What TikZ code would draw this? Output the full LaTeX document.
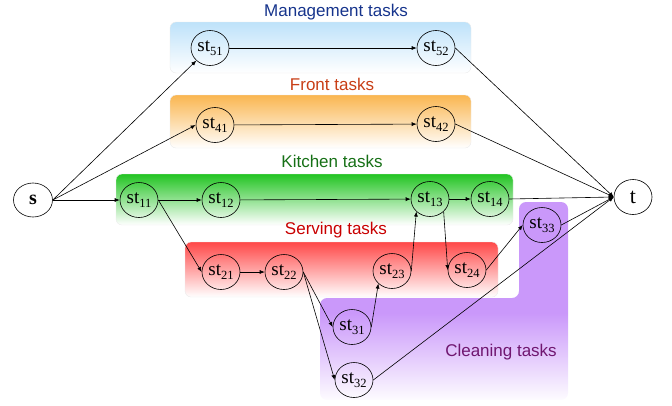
\documentclass[tikz,border=0pt]{standalone}
\usepackage{fontspec}
\setmainfont{Liberation Serif}
\setsansfont{Liberation Sans}
\usetikzlibrary{arrows.meta,shapes.geometric}
\definecolor{mgmtc}{RGB}{190,226,250}
\definecolor{frontc}{RGB}{250,182,80}
\definecolor{kitchc}{RGB}{34,196,34}
\definecolor{servc}{RGB}{255,72,72}
\definecolor{cleanc}{RGB}{202,152,250}
\definecolor{mgmtt}{RGB}{22,52,140}
\definecolor{frontt}{RGB}{200,62,22}
\definecolor{kitcht}{RGB}{22,112,22}
\definecolor{servt}{RGB}{200,0,0}
\definecolor{cleant}{RGB}{112,22,112}
\pgfdeclareverticalshading{cleanshade}{100bp}{color(0bp)=(cleanc!3); color(25bp)=(cleanc!3); color(47bp)=(cleanc); color(100bp)=(cleanc)}
\newcommand\stn[1]{st\raisebox{-0.45ex}{\fontsize{12.5}{12.5}\selectfont #1}}
\begin{document}
\begin{tikzpicture}[x=1pt,y=-1pt,
  task/.style={ellipse,draw,line width=0.6pt,minimum width=38pt,minimum height=35pt,inner sep=0pt,font=\fontsize{19}{19}\selectfont},
  band/.style={rounded corners=6pt,draw=black!8,line width=0.4pt},
  grp/.style={font=\sffamily\fontsize{17}{17}\selectfont},
  arr/.style={-{Latex[length=5pt,width=4pt]},line width=0.6pt}]
\useasboundingbox (0,0) rectangle (672,405);
% bands
\path[band,top color=mgmtc,bottom color=white] (170,22) rectangle (471,73);
\path[band,top color=frontc,bottom color=white] (170,95) rectangle (471,148);
\path[band,top color=kitchc,bottom color=white] (116,174) rectangle (513,225);
\path[band,top color=servc,bottom color=white] (185,242) rectangle (498,297);
\path[shading=cleanshade,rounded corners=7pt] (519,298) -- (519,202) -- (568,202) -- (568,400) -- (320,400) -- (320,298) -- cycle;
% group labels
\node[grp,text=mgmtt] (lm) at (336,12) {Management tasks};
\node[grp,text=frontt] (lf) at (332,84) {Front tasks};
\node[grp,text=kitcht] (lk) at (332,161) {Kitchen tasks};
\node[grp,text=servt] (ls) at (336,230) {Serving tasks};
\node[grp,text=cleant] (lc) at (501,352) {Cleaning tasks};
% nodes
\node[task,minimum width=39pt,minimum height=34pt,font=\fontsize{20}{20}\selectfont\bfseries] (s) at (33,200) {s};
\node[task,font=\fontsize{22}{22}\selectfont] (t) at (633,197) {t};
\node[task] (st51) at (210,48) {\stn{51}};
\node[task] (st52) at (436,48) {\stn{52}};
\node[task] (st41) at (215,125) {\stn{41}};
\node[task] (st42) at (436,124) {\stn{42}};
\node[task] (st11) at (139,200) {\stn{11}};
\node[task] (st12) at (221,200) {\stn{12}};
\node[task] (st13) at (430,199) {\stn{13}};
\node[task] (st14) at (490,199) {\stn{14}};
\node[task] (st21) at (221,272) {\stn{21}};
\node[task] (st22) at (284,272) {\stn{22}};
\node[task] (st23) at (392,271) {\stn{23}};
\node[task] (st24) at (467,270) {\stn{24}};
\node[task] (st31) at (352,327) {\stn{31}};
\node[task] (st32) at (354,380) {\stn{32}};
\node[task] (st33) at (542,225) {\stn{33}};
% edges
\draw[arr] (s.east) -- (st51.south west);
\draw[arr] (s.east) -- (st41.west);
\draw[arr] (s.east) -- (st11.west);
\draw[arr] (st51) -- (st52);
\draw[arr] (st41) -- (st42);
\draw[arr] (st52.east) -- (t.west);
\draw[arr] (st42.east) -- (t.west);
\draw[arr] (st11) -- (st12);
\draw[arr] (st12) -- (st13);
\draw[arr] (st13) -- (st14);
\draw[arr] (st14.east) -- (t.west);
\draw[arr] (st11.east) -- (st21.west);
\draw[arr] (st21) -- (st22);
\draw[arr] (st22.east) -- (st31.west);
\draw[arr] (st22.east) -- (st32.west);
\draw[arr] (st31.east) -- (st23.south west);
\draw[arr] (st23.east) -- (st13.south west);
\draw[arr] (st13.south east) -- (st24.west);
\draw[arr] (st24.east) -- (st33.west);
\draw[arr] (st33.east) -- (t.west);
\draw[arr] (st32.east) -- (t.west);
\end{tikzpicture}
\end{document}
